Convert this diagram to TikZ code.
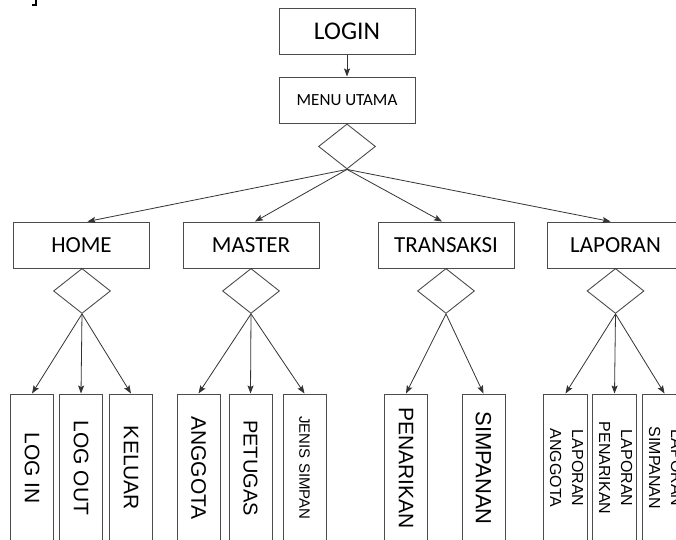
\documentclass[tikz,border=0pt]{standalone}
\usepackage{fontspec}
\setmainfont{Carlito}
\newfontfamily\armono{Liberation Sans}
\usetikzlibrary{shapes.geometric,arrows.meta}

\tikzset{
  menubox/.style={draw=black!70, line width=1pt, rectangle, inner sep=0pt,
    minimum width=136pt, minimum height=46pt,
    font=\fontsize{23}{27}\selectfont},
  choice/.style={draw=black!70, line width=0.9pt, diamond, inner sep=0pt,
    minimum width=57pt, minimum height=45pt},
  leafbox/.style={draw=black!70, line width=1pt, rectangle, inner sep=0pt,
    minimum width=43pt, minimum height=148pt},
  link/.style={draw=black!80, line width=0.8pt,
    -{Stealth[length=8pt,width=6pt,inset=1.5pt]}},
  plain/.style={draw=black!80, line width=0.8pt}
}
% vertical labels, reading downwards
\newcommand{\vlabel}[2]{\rotatebox{-90}{\armono\fontsize{#1}{#1}\selectfont #2}}
\newcommand{\vpair}[2]{\rotatebox{-90}{\armono\fontsize{16}{22}\selectfont
  \begin{tabular}{@{}c@{}}#1\\#2\end{tabular}}}

\begin{document}
\begin{tikzpicture}[x=1pt,y=-1pt]
\path[use as bounding box, clip] (0,0) rectangle (676,539);

% corner mark
\draw[line width=2pt] (32,5) -- (36,5) -- (36,0);

% top of the menu
\node[menubox, font=\fontsize{25.5}{30}\selectfont] (login) at (347,31) {LOGIN};
\node[menubox, font=\fontsize{17}{20}\selectfont] (menu) at (347,100) {MENU UTAMA};
\node[choice, anchor=north] (d0) at (menu.south) {};
\draw[link] (login) -- (menu);

% main menu entries
\node[menubox] (home) at (81.5,245) {HOME};
\node[menubox] (master) at (251,245) {MASTER};
\node[menubox] (trans) at (446,245) {TRANSAKSI};
\node[menubox] (lap) at (615.5,245) {LAPORAN};

\draw[link] (d0.south) -- ([xshift=6pt]home.north);
\draw[link] (d0.south) -- ([xshift=4pt]master.north);
\draw[link] (d0.south) -- ([xshift=-4pt]trans.north);
\draw[link] (d0.south) -- ([xshift=-5pt]lap.north);

% choices under each entry
\node[choice, anchor=north] (dh) at (82,268) {};
\node[choice, anchor=north] (dm) at (251,268) {};
\node[choice, anchor=north] (dt) at (446,268) {};
\node[choice, anchor=north] (dl) at (615.5,268) {};
\draw[plain] (home.south) -- (dh.north);
\draw[plain] (master.south) -- (dm.north);
\draw[plain] (trans.south) -- (dt.north);
\draw[plain] (lap.south) -- (dl.north);

% HOME items
\node[leafbox] (logIn) at (32,468) {\vlabel{21}{LOG IN}};
\node[leafbox] (logOut) at (81,468) {\vlabel{21}{LOG OUT}};
\node[leafbox] (keluar) at (131,468) {\vlabel{21}{KELUAR}};
\draw[link] (dh.south) -- (logIn.north);
\draw[link] (dh.south) -- (logOut.north);
\draw[link] (dh.south) -- (keluar.north);

% MASTER items
\node[leafbox] (anggota) at (198.5,468) {\vlabel{21}{ANGGOTA}};
\node[leafbox] (petugas) at (250.5,468) {\vlabel{20}{PETUGAS}};
\node[leafbox] (jenis) at (304.5,468) {\vlabel{15}{JENIS SIMPAN}};
\draw[link] (dm.south) -- (anggota.north);
\draw[link] (dm.south) -- (petugas.north);
\draw[link] (dm.south) -- (jenis.north);

% TRANSAKSI items
\node[leafbox] (penarikan) at (406,468) {\vlabel{21}{PENARIKAN}};
\node[leafbox] (simpanan) at (483.5,468) {\vlabel{22}{SIMPANAN}};
\draw[link] (dt.south) -- (penarikan.north);
\draw[link] (dt.south) -- (simpanan.north);

% LAPORAN items
\node[leafbox] (lapA) at (565.5,468) {\vpair{LAPORAN}{ANGGOTA}};
\node[leafbox] (lapP) at (614.5,468) {\vpair{LAPORAN}{PENARIKAN}};
\node[leafbox] (lapS) at (664.5,468) {\vpair{LAPORAN}{SIMPANAN}};
\draw[link] (dl.south) -- (lapA.north);
\draw[link] (dl.south) -- (lapP.north);
\draw[link] (dl.south) -- (lapS.north);
\end{tikzpicture}
\end{document}
